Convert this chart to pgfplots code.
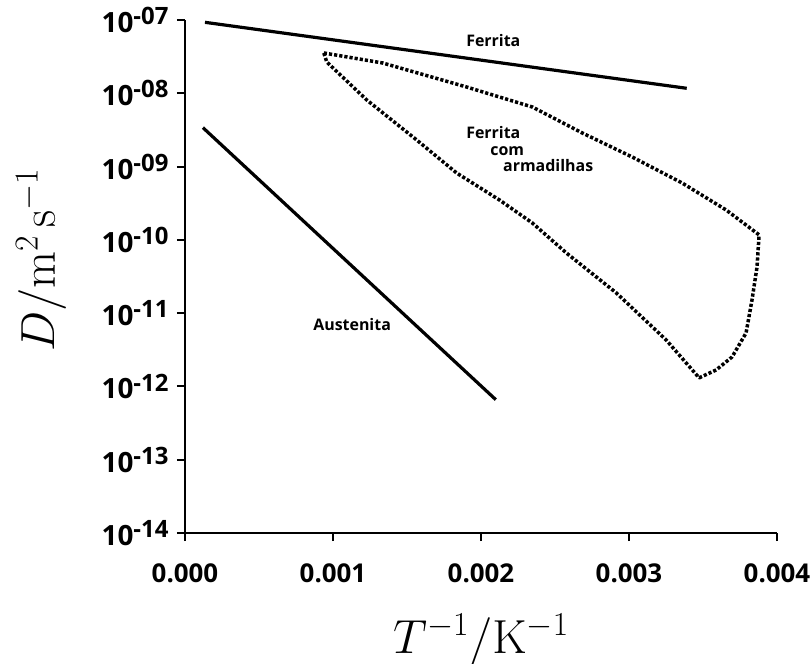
\RequirePackage{fix-cm}
\documentclass[border=0pt]{standalone}
\usepackage[no-math]{fontspec}
\setmainfont{Open Sans}
\usepackage{pgfplots}
\pgfplotsset{compat=1.18}
\newcommand{\yl}[1]{\fontsize{28}{30}\selectfont 10\raisebox{0.28em}{\fontsize{24}{24}\selectfont -#1}}
\begin{document}
\begin{tikzpicture}
\begin{axis}[
  at={(0,0)}, anchor=south west,
  scale only axis, width=592bp, height=513bp,
  xmin=0, xmax=0.004, ymode=log, ymin=1e-14, ymax=1e-7,
  axis lines=left,
  axis line style={line width=2.6bp, -},
  tick style={line width=2bp, black},
  major tick length=8bp, tick align=outside,
  xtick={0,0.001,0.002,0.003,0.004},
  xticklabels={0.000,0.001,0.002,0.003,0.004},
  scaled x ticks=false,
  ytick={1e-14,1e-13,1e-12,1e-11,1e-10,1e-9,1e-8,1e-7},
  yticklabels={\yl{14},\yl{13},\yl{12},\yl{11},\yl{10},\yl{09},\yl{08},\yl{07}},
  yminorticks=false, xminorticks=false,
  ticklabel style={font=\fontsize{26}{28}\selectfont\bfseries},
  xticklabel style={anchor=base, yshift=-41bp},
  yticklabel style={anchor=east, xshift=-5bp},
  xlabel={$T^{-1}/\mathrm{K}^{-1}$},
  ylabel={$D/\mathrm{m}^2\,\mathrm{s}^{-1}$},
  label style={font=\fontsize{48}{50}\selectfont},
  xlabel style={at={(axis description cs:0.5,0)}, anchor=base, yshift=-120bp},
  ylabel style={at={(axis description cs:0,0.532)}, anchor=base, rotate=0, yshift=130bp},
  clip=false,
]
\addplot[black, line width=3.2bp] coordinates {(0.000135,9.3e-8) (0.00339,1.17e-8)};
\addplot[black, line width=3.2bp] coordinates {(0.000121,3.4e-9) (0.0021,6.6e-13)};
\addplot[black, line width=3.5bp, dash pattern=on 3.2bp off 2bp, line join=round] coordinates {
(0.000938,3.55e-8)
(0.001336,2.59e-8)
(0.001902,1.22e-8)
(0.002347,6.50e-9)
(0.002685,2.87e-9)
(0.003022,1.35e-9)
(0.003359,5.97e-10)
(0.003656,2.56e-10)
(0.003879,1.17e-10)
(0.003865,4.27e-11)
(0.003831,1.51e-11)
(0.003791,5.37e-12)
(0.003696,2.52e-12)
(0.003589,1.68e-12)
(0.003474,1.31e-12)
(0.003251,4.31e-12)
(0.002914,1.89e-11)
(0.002577,6.62e-11)
(0.002347,1.70e-10)
(0.002125,3.50e-10)
(0.001835,8.18e-10)
(0.001565,2.31e-9)
(0.001228,8.11e-9)
(0.000958,2.67e-8)
(0.000938,3.55e-8)
};
\node[font=\fontsize{16}{18}\selectfont\bfseries] at (axis cs:0.002083,5.33e-8) {Ferrita};
\node[font=\fontsize{16}{18}\selectfont\bfseries] at (axis cs:0.002083,2.96e-9) {Ferrita};
\node[font=\fontsize{16}{18}\selectfont\bfseries] at (axis cs:0.002177,1.63e-9) {com};
\node[font=\fontsize{16}{18}\selectfont\bfseries] at (axis cs:0.002454,1.02e-9) {armadilhas};
\node[font=\fontsize{16}{18}\selectfont\bfseries] at (axis cs:0.001129,6.9e-12) {Austenita};
\end{axis}
\pgfresetboundingbox
\path[use as bounding box] (-185bp,-131bp) rectangle (626bp,533bp);
\end{tikzpicture}
\end{document}
